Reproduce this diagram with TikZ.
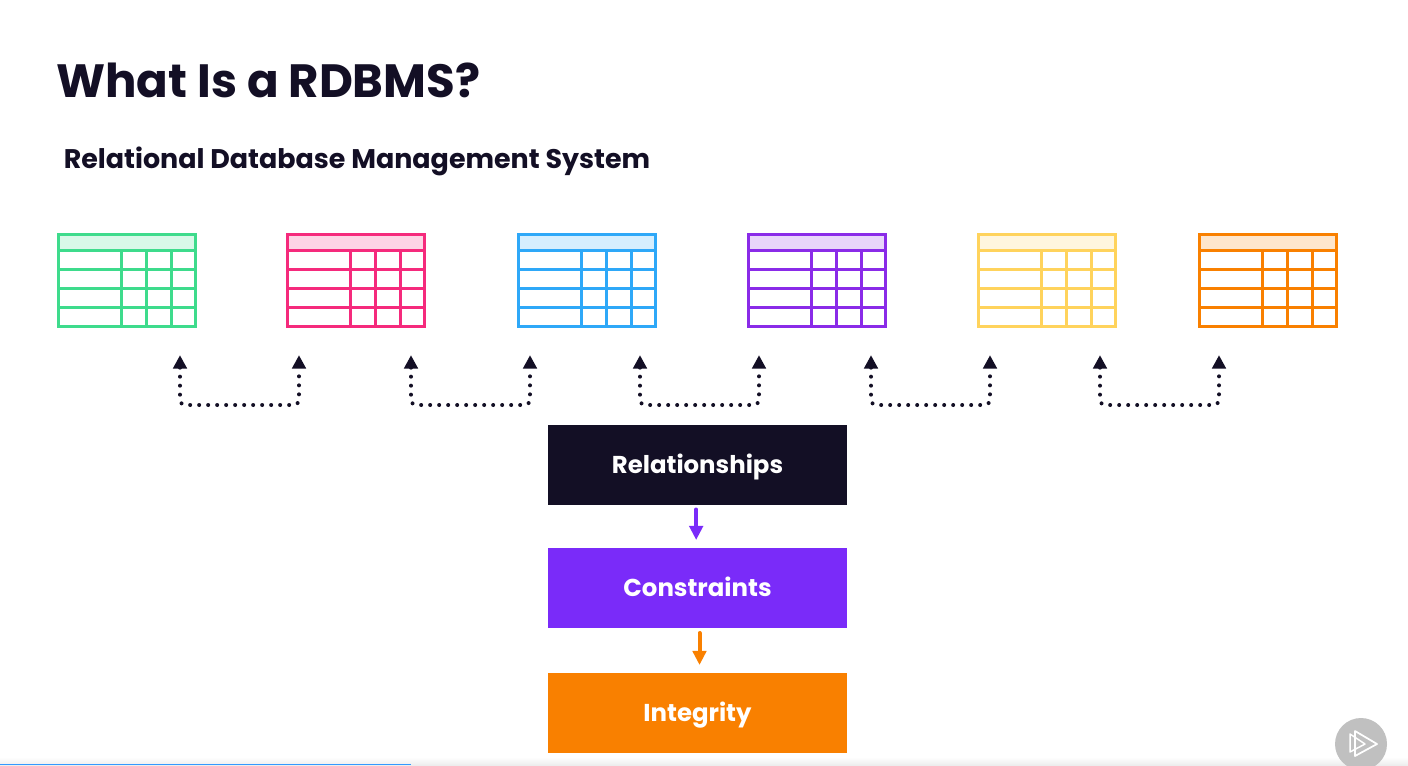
\documentclass[tikz,border=0pt]{standalone}
\usepackage{fontspec}
\setmainfont{Poppins}
\usepackage{xcolor}
\usetikzlibrary{arrows.meta, positioning, calc}
\definecolor{inkDark}{HTML}{130F25}
\definecolor{tblGreen}{HTML}{3EDB8C}
\definecolor{tblPink}{HTML}{F52A7C}
\definecolor{tblBlue}{HTML}{2EA8F8}
\definecolor{tblPurple}{HTML}{8A2BE8}
\definecolor{tblYellow}{HTML}{FFD35C}
\definecolor{tblOrange}{HTML}{F98000}
\definecolor{boxPurple}{HTML}{7A2BF9}
\definecolor{boxOrange}{HTML}{F98000}
\definecolor{barBlue}{HTML}{3399FF}
\definecolor{playGray}{HTML}{C0C0C0}

\begin{document}
\begin{tikzpicture}[
    x=0.75pt, y=-0.75pt,
    tbl/.style={rectangle, draw=#1, fill=#1!20, line width=2.25pt, outer sep=0pt, inner sep=0pt, minimum width=102.8pt, minimum height=69pt, anchor=north west},
    grid/.style={line width=2.25pt},
    link/.style={{Triangle[length=10pt, width=10pt, sep=3.5pt]}-{Triangle[length=10pt, width=10pt, sep=3.5pt]}, inkDark, line width=3pt, line cap=round, dash pattern=on 0pt off 6.75pt, rounded corners=4pt},
    box/.style={rectangle, minimum width=224.25pt, minimum height=60pt, outer sep=0pt, anchor=north west, text=white, text height=13.5pt, text depth=0pt, font=\fontsize{18.3}{22}\selectfont\bfseries},
    arrow/.style={-{Triangle[length=10.5pt, width=10pt]}, line width=3pt, line cap=round, shorten <=3.75pt, shorten >=6pt},
]
    \useasboundingbox (0,0) rectangle (1408,765);
    \fill[white] (0,0) rectangle (1408,765);

    % Heading
    \node[anchor=base west, inner sep=0pt, text=inkDark, font=\fontsize{35}{40}\selectfont\bfseries] (title) at (56,97.5) {What Is a RDBMS?};
    \node[anchor=base west, inner sep=0pt, text=inkDark, font=\fontsize{20.2}{24}\selectfont\bfseries] (subtitle) at (63.5,168.5) {Relational Database Management System};

    % Tables
    \foreach \tname/\tcol/\tx in {green/tblGreen/58, pink/tblPink/287, blue/tblBlue/518, purple/tblPurple/748, yellow/tblYellow/978, orange/tblOrange/1199} {
        \node[tbl=\tcol] (\tname) at (\tx,234) {};
        \fill[white] (\tx,250.5) rectangle ($(\tname.south east)$);
        \draw[\tcol, grid] (\tname.north west) rectangle (\tname.south east);
        \foreach \ry in {250.5,269.5,288.5,307.5}
            \draw[\tcol, grid] (\tname.west |- 0,\ry) -- (\tname.east |- 0,\ry);
        \foreach \cx in {63,88,113}
            \draw[\tcol, grid] ($(\tx,250.5)+(\cx,0)$) -- ($(\tname.south west)+(\cx,0)$);
    }

    % Relationship links
    \foreach \i/\lx/\rx in {1/180/299, 2/411/530, 3/640/759, 4/871/990, 5/1100/1219} {
        \coordinate (lt\i) at (\lx,350.5);
        \coordinate (rt\i) at (\rx,350.5);
        \draw[link] (lt\i) -- ++(0,54.5) -| (rt\i);
    }

    % Stack
    \node[box, fill=inkDark] (rel) at (548,424.5) {Relationships};
    \node[box, fill=boxPurple, below=32.6pt of rel.south west, anchor=north west] (con) {Constraints};
    \node[box, fill=boxOrange, below=33.75pt of con.south west, anchor=north west] (integ) {Integrity};

    \draw[arrow, boxPurple] ([xshift=-1pt]rel.south) -- ([xshift=-1pt]con.north);
    \draw[arrow, boxOrange] ([xshift=1.5pt]con.south) -- ([xshift=1.5pt]integ.north);

    % Player chrome
    \shade[top color=white, bottom color=black!7] (0,757) rectangle (1408,765);
    \fill[barBlue] (0,763.5) rectangle (411,765);
    \node[circle, fill=playGray, minimum size=39pt, inner sep=0pt] (play) at (1361,744) {};
    \draw[white, line width=1.1pt, line join=round] (1350,734) -- (1350,752) -- (1365,744) -- cycle;
    \draw[white, line width=1.3pt, line join=round] (1355,731) -- (1355,756) -- (1377,744) -- cycle;
\end{tikzpicture}
\end{document}
